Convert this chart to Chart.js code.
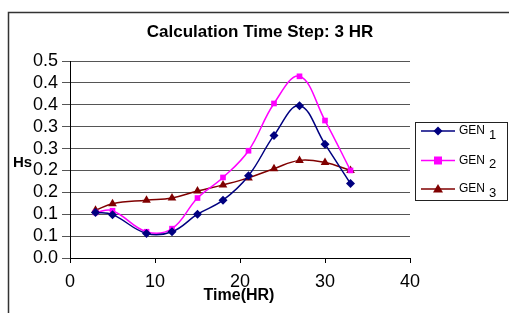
<!DOCTYPE html>
<html>
<head>
<meta charset="utf-8">
<script src="https://cdn.jsdelivr.net/npm/chart.js@4/dist/chart.umd.min.js"></script>
<style>
html,body{margin:0;padding:0;background:#fff;}
#wrap{position:relative;width:509px;height:313px;}
</style>
</head>
<body>
<div id="wrap"><canvas id="c" width="509" height="313"></canvas></div>
<script>
const hours = [3, 5, 9, 12, 15, 18, 21, 24, 27, 30, 33];
const gen1 = [0.104, 0.099, 0.056, 0.060, 0.100, 0.132, 0.188, 0.280, 0.348, 0.260, 0.170];
const gen2 = [0.104, 0.108, 0.060, 0.067, 0.137, 0.184, 0.245, 0.353, 0.415, 0.314, 0.200];
const gen3 = [0.109, 0.124, 0.132, 0.137, 0.153, 0.167, 0.183, 0.204, 0.223, 0.218, 0.200];
const seriesNames = ['GEN', 'GEN', 'GEN'];
const seriesSubs = ['1', '2', '3'];
const yTickLabels = ['0.0', '0.1', '0.1', '0.2', '0.2', '0.3', '0.3', '0.4', '0.4', '0.5'];
const xTicks = [0, 10, 20, 30, 40];
const titleText = 'Calculation Time Step: 3 HR';
const yTitle = 'Hs';
const xTitle = 'Time(HR)';

const colors = ['#000080', '#FF00FF', '#800000'];
const styles = ['rectRot', 'rect', 'triangle'];
const radii = [4.5, 4, 5];

function pts(vals){ return hours.map((h,i)=>({x:h, y:vals[i]})); }
const allVals = [gen1, gen2, gen3];

const FONT = '"Liberation Sans", Arial, sans-serif';

const deco = {
  id: 'deco',
  beforeDraw(chart){
    const ctx = chart.ctx;
    ctx.save();
    ctx.fillStyle = '#fff';
    ctx.fillRect(0,0,chart.width,chart.height);
    ctx.strokeStyle = '#333';
    ctx.lineWidth = 1.5;
    ctx.strokeRect(8.5, 12.5, 600, 400);
    ctx.restore();
  },
  afterDraw(chart){
    const ctx = chart.ctx;
    ctx.save();
    ctx.fillStyle = '#000';
    ctx.textAlign = 'center';
    ctx.textBaseline = 'middle';
    ctx.font = 'bold 17px ' + FONT;
    ctx.fillText(titleText, 260, 32);
    ctx.font = 'bold 16px ' + FONT;
    ctx.fillText(xTitle, 239, 296);
    ctx.textAlign = 'left';
    ctx.font = 'bold 15px ' + FONT;
    ctx.fillText(yTitle, 13, 163);
    // legend
    ctx.strokeStyle = '#222';
    ctx.lineWidth = 1;
    ctx.strokeRect(415.5, 122.5, 92, 78);
    const ys = [131, 160.5, 189];
    for (let i=0;i<3;i++){
      const y = ys[i];
      ctx.strokeStyle = colors[i];
      ctx.lineWidth = 1.5;
      ctx.beginPath(); ctx.moveTo(421, y); ctx.lineTo(455, y); ctx.stroke();
      ctx.fillStyle = colors[i];
      const x = 438;
      ctx.beginPath();
      if (styles[i]==='rectRot'){
        const r=4.5; ctx.moveTo(x,y-r); ctx.lineTo(x+r,y); ctx.lineTo(x,y+r); ctx.lineTo(x-r,y); ctx.closePath();
      } else if (styles[i]==='rect'){
        ctx.rect(x-4,y-4,8,8);
      } else {
        ctx.moveTo(x,y-5); ctx.lineTo(x+5,y+3.5); ctx.lineTo(x-5,y+3.5); ctx.closePath();
      }
      ctx.fill();
      ctx.fillStyle = '#000';
      ctx.textAlign = 'left';
      ctx.font = '12px ' + FONT;
      ctx.fillText(seriesNames[i], 459, y);
      ctx.font = '13px ' + FONT;
      ctx.fillText(seriesSubs[i], 489, y + 4);
    }
    ctx.restore();
  }
};

new Chart(document.getElementById('c'), {
  type: 'line',
  data: {
    datasets: allVals.map((v,i)=>({
      label: seriesNames[i] + ' ' + seriesSubs[i],
      data: pts(v),
      borderColor: colors[i],
      backgroundColor: colors[i],
      borderWidth: 1.5,
      pointStyle: styles[i],
      pointRadius: radii[i],
      pointBorderWidth: 0,
      tension: 0.4,
      fill: false
    }))
  },
  options: {
    responsive: false,
    animation: false,
    devicePixelRatio: 1,
    layout: { padding: { left: 0, top: 61, right: 99, bottom: 0 } },
    plugins: { legend: { display: false }, title: { display: false }, tooltip: { enabled: false } },
    scales: {
      x: {
        type: 'linear', min: 0, max: 40,
        afterBuildTicks(s){ s.ticks = xTicks.map(v=>({value:v})); },
        afterFit(s){ s.height = 55; },
        grid: { display: true, drawOnChartArea: false, drawTicks: true, tickLength: 5, color: '#000', tickColor: '#000' },
        border: { display: true, color: '#000', width: 1 },
        ticks: { font: { family: FONT, size: 18 }, color: '#000', padding: 8, maxRotation: 0, autoSkip: false }
      },
      y: {
        min: 0, max: 0.45,
        afterBuildTicks(s){ s.ticks = yTickLabels.map((t,i)=>({value: i*0.05})); },
        afterFit(s){ s.width = 70; },
        grid: { display: true, drawOnChartArea: true, drawTicks: true, tickLength: 8, color: '#555', tickColor: '#555', lineWidth: 1 },
        border: { display: true, color: '#000', width: 1 },
        ticks: { font: { family: FONT, size: 18 }, color: '#000', padding: 4, autoSkip: false,
          callback: (v, i) => yTickLabels[i] }
      }
    }
  },
  plugins: [deco]
});
</script>
</body>
</html>
